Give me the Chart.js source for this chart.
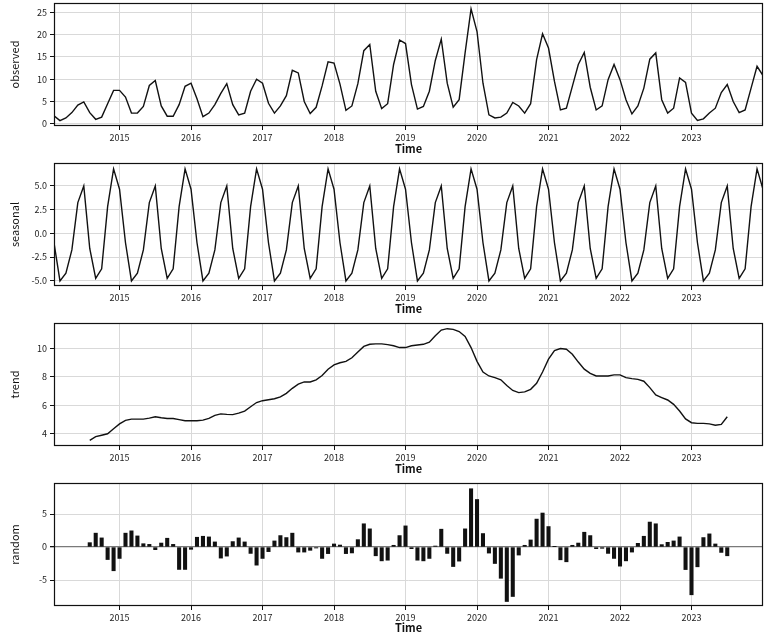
<!DOCTYPE html>
<html>
<head>
<meta charset="utf-8">
<script src="https://cdn.jsdelivr.net/npm/chart.js@4.4.0/dist/chart.umd.min.js"></script>
<style>
  html, body { margin: 0; padding: 0; background: #fff; }
  #wrap { position: relative; width: 767px; height: 635px; overflow: hidden; }
  canvas { position: absolute; left: 0; }
</style>
</head>
<body>
<div id="wrap">
  <canvas id="c1" width="767" height="160" style="top:0px"></canvas>
  <canvas id="c2" width="767" height="160" style="top:160px"></canvas>
  <canvas id="c3" width="767" height="160" style="top:320px"></canvas>
  <canvas id="c4" width="767" height="155" style="top:480px"></canvas>
</div>
<script>
// ---- data (monthly, Feb 2014 .. Jan 2024) ----
const startYear = 2014;
const startMonth = 2;
const yearTicks = [2015, 2016, 2017, 2018, 2019, 2020, 2021, 2022, 2023];

const observed = [
  1.8, 0.7, 1.3, 2.5, 4.2, 4.9, 2.5, 1.0, 1.5, 4.5, 7.5, 7.5,
  6.0, 2.4, 2.4, 3.9, 8.6, 9.7, 4.0, 1.7, 1.7, 4.3, 8.4, 9.1,
  5.6, 1.6, 2.4, 4.3, 6.8, 9.0, 4.3, 2.0, 2.4, 7.3, 10.0, 9.1,
  4.6, 2.4, 4.0, 6.3, 12.0, 11.4, 5.0, 2.3, 3.7, 8.5, 13.9, 13.6,
  8.9, 3.0, 4.0, 9.0, 16.4, 17.8, 7.3, 3.4, 4.5, 13.3, 18.8, 18.0,
  8.8, 3.3, 3.9, 7.3, 14.2, 19.0, 9.1, 3.7, 5.4, 15.9, 25.8, 20.7,
  9.1, 2.0, 1.3, 1.5, 2.4, 4.8, 4.0, 2.4, 4.5, 14.4, 20.2, 17.0,
  9.5, 3.1, 3.5, 8.4, 13.3, 16.0, 8.2, 3.1, 4.0, 9.9, 13.3, 9.9,
  5.4, 2.2, 4.0, 8.0, 14.5, 15.9, 5.4, 2.4, 3.5, 10.3, 9.3, 2.4,
  0.75, 1.1, 2.4, 3.5, 7.0, 8.8, 5.0, 2.5, 3.1, 8.0, 12.9, 10.8
];

const seasonal = [
  -1.0, -5.02, -4.2, -1.75, 3.23, 4.98, -1.6, -4.74, -3.75, 2.8, 6.77, 4.63,
  -1.0, -5.02, -4.2, -1.75, 3.23, 4.98, -1.6, -4.74, -3.75, 2.8, 6.77, 4.63,
  -1.0, -5.02, -4.2, -1.75, 3.23, 4.98, -1.6, -4.74, -3.75, 2.8, 6.77, 4.63,
  -1.0, -5.02, -4.2, -1.75, 3.23, 4.98, -1.6, -4.74, -3.75, 2.8, 6.77, 4.63,
  -1.0, -5.02, -4.2, -1.75, 3.23, 4.98, -1.6, -4.74, -3.75, 2.8, 6.77, 4.63,
  -1.0, -5.02, -4.2, -1.75, 3.23, 4.98, -1.6, -4.74, -3.75, 2.8, 6.77, 4.63,
  -1.0, -5.02, -4.2, -1.75, 3.23, 4.98, -1.6, -4.74, -3.75, 2.8, 6.77, 4.63,
  -1.0, -5.02, -4.2, -1.75, 3.23, 4.98, -1.6, -4.74, -3.75, 2.8, 6.77, 4.63,
  -1.0, -5.02, -4.2, -1.75, 3.23, 4.98, -1.6, -4.74, -3.75, 2.8, 6.77, 4.63,
  -1.0, -5.02, -4.2, -1.75, 3.23, 4.98, -1.6, -4.74, -3.75, 2.8, 6.77, 4.63
];

// trend and random exist from Aug 2014 (index 6) to Jul 2023 (index 113)
const componentOffset = 6;
const trend = [
  3.53, 3.8, 3.9, 4.0, 4.35, 4.7,
  4.95, 5.03, 5.03, 5.03, 5.1, 5.2, 5.13, 5.08, 5.08, 5.0, 4.92, 4.92,
  4.92, 4.96, 5.08, 5.3, 5.4, 5.37, 5.35, 5.45, 5.6, 5.9, 6.2, 6.33,
  6.4, 6.47, 6.6, 6.85, 7.2, 7.5, 7.65, 7.65, 7.8, 8.1, 8.55, 8.85,
  9.0, 9.1, 9.35, 9.75, 10.15, 10.3, 10.33, 10.33, 10.28, 10.2, 10.07, 10.07,
  10.2, 10.25, 10.3, 10.45, 10.9, 11.3, 11.4, 11.35, 11.2, 10.85, 10.07, 9.1,
  8.35, 8.07, 7.95, 7.8, 7.4, 7.05, 6.9, 6.95, 7.13, 7.55, 8.35, 9.25,
  9.85, 10.0, 9.95, 9.6, 9.05, 8.55, 8.25, 8.07, 8.07, 8.07, 8.15, 8.15,
  7.95, 7.88, 7.83, 7.7, 7.25, 6.73, 6.55, 6.38, 6.07, 5.6, 5.05, 4.78,
  4.73, 4.73, 4.7, 4.6, 4.66, 5.2
];
const random = [
  0.66, 2.1, 1.38, -1.9, -3.6, -1.73,
  2.1, 2.45, 1.68, 0.5, 0.4, -0.4, 0.6, 1.33, 0.4, -3.4, -3.4, -0.35,
  1.48, 1.63, 1.53, 0.77, -1.68, -1.38, 0.82, 1.38, 0.77, -0.97, -2.75, -1.73,
  -0.7, 0.92, 1.73, 1.43, 2.1, -0.77, -0.77, -0.5, -0.15, -1.73, -1.0, 0.46,
  0.3, -1.0, -0.9, 1.12, 3.52, 2.75, -1.33, -2.1, -2.0, 0.26, 1.73, 3.2,
  -0.25, -2.0, -2.1, -1.73, 0.15, 2.7, -0.97, -2.96, -2.14, 2.75, 8.83, 7.2,
  2.04, -0.92, -2.5, -4.74, -8.26, -7.5, -1.22, 0.26, 1.07, 4.23, 5.15, 3.1,
  0.05, -1.94, -2.24, 0.26, 0.6, 2.24, 1.73, -0.25, -0.2, -0.97, -1.73, -2.9,
  -2.1, -0.77, 0.56, 1.63, 3.78, 3.52, 0.36, 0.71, 0.92, 1.53, -3.42, -7.24,
  -3.0, 1.43, 1.99, 0.46, -0.82, -1.33
];

const observedTicks = [0, 5, 10, 15, 20, 25];
const seasonalTicks = [-5, -2.5, 0, 2.5, 5];
const trendTicks = [4, 6, 8, 10];
const randomTicks = [-5, 0, 5];

// ---- helpers ----
function timeAt(i) { return startYear + (startMonth - 1 + i) / 12; }
function points(arr, offset) { return arr.map((v, k) => ({ x: timeAt(k + offset), y: v })); }

const FONT = "'Noto Sans CJK SC', 'Liberation Sans', sans-serif";
const GRID = '#d9d9d9';

const boxPlugin = {
  id: 'box',
  afterDraw(chart) {
    const { ctx, chartArea: a } = chart;
    ctx.save();
    ctx.strokeStyle = '#111';
    ctx.lineWidth = 1.2;
    ctx.strokeRect(Math.round(a.left) + 0.5, Math.round(a.top) + 0.5,
                   Math.round(a.right - a.left) - 1, Math.round(a.bottom - a.top) - 1);
    ctx.restore();
  }
};

function makePanel(id, kind, data, yMin, yMax, yTicks, yFmt, yLabel, canvasH, titlePadBottom, zeroLine) {
  const xH = canvasH - 126;
  const ds = kind === 'line'
    ? { type: 'line', data, borderColor: '#111', borderWidth: 1.4, pointRadius: 0, tension: 0, fill: false }
    : { type: 'bar', data, backgroundColor: '#111', borderWidth: 0, barThickness: 3.4 };
  new Chart(document.getElementById(id), {
    type: kind,
    data: { datasets: [ds] },
    plugins: [boxPlugin],
    options: {
      responsive: false,
      animation: false,
      devicePixelRatio: 1,
      layout: { padding: { top: 3, right: 4, left: 0, bottom: 0 } },
      plugins: { legend: { display: false }, tooltip: { enabled: false } },
      scales: {
        x: {
          type: 'linear',
          min: timeAt(0),
          max: timeAt(observed.length - 1),
          offset: false,
          afterBuildTicks: s => { s.ticks = yearTicks.map(v => ({ value: v })); },
          afterFit: s => { s.height = xH; s.paddingLeft = 0; s.paddingRight = 0; },
          grid: { color: GRID, lineWidth: 1, drawTicks: true, tickLength: 4, tickColor: '#111', offset: false },
          border: { display: false },
          ticks: { color: '#222', padding: 2, font: { family: FONT, size: 9 }, maxRotation: 0,
                   callback: v => String(v) },
          title: { display: true, text: 'Time', color: '#111',
                   font: { family: FONT, size: 11, weight: 'bold' },
                   padding: { top: 0, bottom: titlePadBottom } }
        },
        y: {
          type: 'linear',
          min: yMin,
          max: yMax,
          afterBuildTicks: s => { s.ticks = yTicks.map(v => ({ value: v })); },
          afterFit: s => { s.width = 54; s.paddingTop = 0; s.paddingBottom = 0; },
          grid: {
            color: ctx => (zeroLine && ctx.tick && ctx.tick.value === 0) ? '#7a7a7a' : GRID,
            lineWidth: ctx => (zeroLine && ctx.tick && ctx.tick.value === 0) ? 1.3 : 1,
            drawTicks: true, tickLength: 4, tickColor: '#111'
          },
          border: { display: false },
          ticks: { color: '#222', padding: 3, font: { family: FONT, size: 9 }, callback: yFmt },
          title: { display: true, text: yLabel, color: '#111',
                   font: { family: FONT, size: 11 },
                   padding: { top: 8, bottom: 0 } }
        }
      }
    }
  });
}

makePanel('c1', 'line', points(observed, 0), -0.5, 27.1, observedTicks, v => String(v), 'observed', 160, 5, false);
makePanel('c2', 'line', points(seasonal, 0), -5.55, 7.39, seasonalTicks, v => v.toFixed(1), 'seasonal', 160, 5, false);
makePanel('c3', 'line', points(trend, componentOffset), 3.14, 11.8, trendTicks, v => String(v), 'trend', 160, 5, false);
makePanel('c4', 'bar', points(random, componentOffset), -8.94, 9.7, randomTicks, v => String(v), 'random', 155, 0.5, true);
</script>
</body>
</html>
